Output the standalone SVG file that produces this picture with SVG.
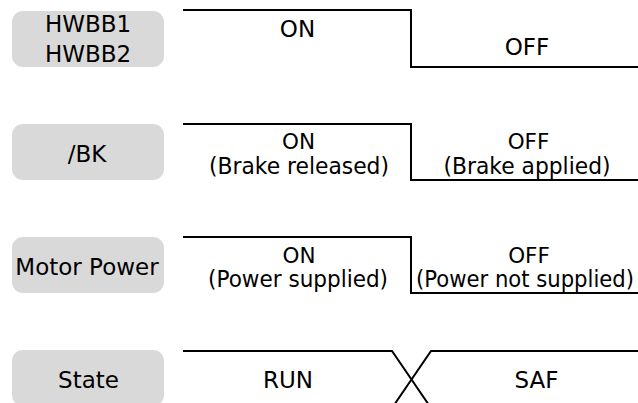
<svg xmlns="http://www.w3.org/2000/svg" width="638" height="403" viewBox="0 0 638 403">
  <style>
    .box { fill: #d9d9d9; stroke: none; }
    .t { font-family: "DejaVu Sans", Verdana, sans-serif; font-size: 23px; fill: #000; text-anchor: middle; }
    .m { font-family: "DejaVu Sans", Verdana, sans-serif; font-size: 21.5px; fill: #000; text-anchor: middle; }
    .s { font-family: "DejaVu Sans", Verdana, sans-serif; font-size: 23px; fill: #000; text-anchor: middle; }
    .wave { fill: none; stroke: #000; stroke-width: 2; }
  </style>
  <rect width="638" height="403" fill="#fff"/>

  <g id="label-hwbb">
    <rect class="box" x="12" y="11" width="152" height="56" rx="11"/>
    <text class="t" x="88" y="32">HWBB1</text>
    <text class="t" x="88" y="61.5">HWBB2</text>
  </g>
  <g id="label-bk">
    <rect class="box" x="12" y="124" width="152" height="56" rx="11"/>
    <text class="t" x="87" y="161.5">/BK</text>
  </g>
  <g id="label-motor">
    <rect class="box" x="12" y="237" width="152" height="56" rx="11"/>
    <text class="t" x="87" y="274.5">Motor Power</text>
  </g>
  <g id="label-state">
    <rect class="box" x="12" y="350" width="152" height="56" rx="11"/>
    <text class="t" x="88.5" y="387.5">State</text>
  </g>

  <g id="waveforms">
    <path class="wave" d="M183 10 H411 V67 H638"/>
    <path class="wave" d="M183 124 H411 V180 H638"/>
    <path class="wave" d="M183 237 H411 V293 H638"/>
    <path class="wave" d="M183 351 H392 L431 408 M392 408 L431 351 H638"/>
  </g>

  <g id="values-hwbb">
    <text class="t" x="297.5" y="36.5">ON</text>
    <text class="t" x="527" y="55">OFF</text>
  </g>
  <g id="values-bk">
    <text class="m" x="298.5" y="148.5">ON</text>
    <text class="s" x="299" y="174" textLength="180" lengthAdjust="spacingAndGlyphs">(Brake released)</text>
    <text class="m" x="528.5" y="148.5">OFF</text>
    <text class="s" x="527" y="174" textLength="167" lengthAdjust="spacingAndGlyphs">(Brake applied)</text>
  </g>
  <g id="values-motor">
    <text class="m" x="299" y="262.5">ON</text>
    <text class="s" x="298" y="287" textLength="180" lengthAdjust="spacingAndGlyphs">(Power supplied)</text>
    <text class="m" x="529" y="262.5">OFF</text>
    <text class="s" x="525" y="287" textLength="218" lengthAdjust="spacingAndGlyphs">(Power not supplied)</text>
  </g>
  <g id="values-state">
    <text class="t" x="288" y="387.5">RUN</text>
    <text class="t" x="536.5" y="387.5">SAF</text>
  </g>
</svg>
